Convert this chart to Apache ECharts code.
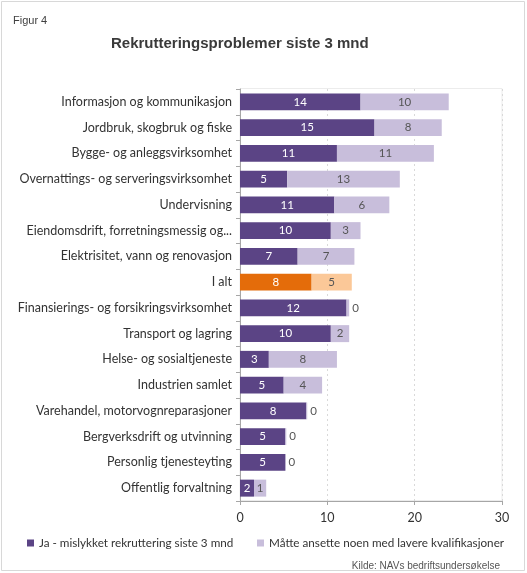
<!DOCTYPE html>
<html><head><meta charset="utf-8">
<script src="https://cdn.jsdelivr.net/npm/echarts@6/dist/echarts.min.js"></script>
<style>html,body{margin:0;padding:0;background:#fff}#c{width:527px;height:573px}</style>
</head><body><div id="c"></div>
<script>
const categories = [
  "Informasjon og kommunikasjon",
  "Jordbruk, skogbruk og fiske",
  "Bygge- og anleggsvirksomhet",
  "Overnattings- og serveringsvirksomhet",
  "Undervisning",
  "Eiendomsdrift, forretningsmessig og...",
  "Elektrisitet, vann og renovasjon",
  "I alt",
  "Finansierings- og forsikringsvirksomhet",
  "Transport og lagring",
  "Helse- og sosialtjeneste",
  "Industrien samlet",
  "Varehandel, motorvognreparasjoner",
  "Bergverksdrift og utvinning",
  "Personlig tjenesteyting",
  "Offentlig forvaltning"
];
const mislykket = [13.8, 15.4, 11.1, 5.4, 10.8, 10.4, 6.6, 8.2, 12.2, 10.4, 3.3, 5.0, 7.6, 5.2, 5.2, 1.6];
const lavereKval = [10.1, 7.7, 11.1, 12.9, 6.3, 3.4, 6.5, 4.6, 0.3, 2.1, 7.8, 4.4, 0.1, 0.1, 0.0, 1.4];
const xTicks = [0, 10, 20, 30];
const seriesNames = ["Ja - mislykket rekruttering siste 3 mnd", "Måtte ansette noen med lavere kvalifikasjoner"];
const highlight = "I alt";

const FONT = "Lato";
const dark = "#5b4485", light = "#c8bedb", orange = "#e46c0a", peach = "#fbc898";

const cats = categories.slice().reverse();
const a = mislykket.slice().reverse();
const b = lavereKval.slice().reverse();

const dataA = a.map((v, i) => ({
  value: v,
  itemStyle: { color: cats[i] === highlight ? orange : dark }
}));
const dataB = b.map((v, i) => {
  const o = { value: v, itemStyle: { color: cats[i] === highlight ? peach : light } };
  if (v < 1) o.label = { position: "right", distance: 3 };
  return o;
});

const legendBase = {
  top: 532, itemWidth: 7, itemHeight: 7, itemGap: 10, icon: "rect",
  textStyle: { fontFamily: FONT, fontSize: 11.7, color: "#333" }
};

const chart = echarts.init(document.getElementById("c"), null, { renderer: "canvas" });
chart.setOption({
  animation: false,
  backgroundColor: "#fff",
  title: [
    { text: "Figur 4", left: 8, top: 10, textStyle: { fontFamily: "Arial", fontSize: 11, fontWeight: "normal", color: "#404040" } },
    { text: "Rekrutteringsproblemer siste 3 mnd", left: 106, top: 31, textStyle: { fontFamily: "Arial", fontSize: 15, fontWeight: "bold", color: "#3a3a3a" } },
    { text: "Kilde: NAVs bedriftsundersøkelse", right: 22, top: 556, textStyle: { fontFamily: "Arial", fontSize: 10, fontWeight: "normal", color: "#555" } }
  ],
  graphic: [
    { type: "rect", shape: { x: 1.5, y: 1.5, width: 523, height: 569 }, style: { fill: "none", stroke: "#d8d8d8", lineWidth: 1 }, silent: true },
    { type: "rect", shape: { x: 240, y: 88.5, width: 262, height: 412 }, style: { fill: "none", stroke: "#ececec", lineWidth: 1 }, silent: true, z: -1 }
  ],
  legend: [
    Object.assign({ left: 22, data: [seriesNames[0]] }, legendBase),
    Object.assign({ left: 252, data: [seriesNames[1]] }, legendBase)
  ],
  grid: { left: 240, right: 25, top: 89, bottom: 72, containLabel: false },
  xAxis: {
    type: "value", min: 0, max: 30, interval: 10,
    axisLine: { show: true, lineStyle: { color: "#a6a6a6" } },
    axisTick: { show: true, length: 4, lineStyle: { color: "#a6a6a6" } },
    axisLabel: { fontFamily: FONT, fontSize: 12.5, color: "#333", margin: 10,
      formatter: v => xTicks.includes(v) ? String(v) : "" },
    splitLine: { show: true, lineStyle: { color: "#d9d9d9", type: [2, 3] } }
  },
  yAxis: {
    type: "category", data: cats,
    axisLine: { show: true, lineStyle: { color: "#a6a6a6" } },
    axisTick: { show: true, length: 4, lineStyle: { color: "#a6a6a6" } },
    axisLabel: { fontFamily: FONT, fontSize: 12.5, color: "#333", margin: 8 }
  },
  series: [
    {
      name: seriesNames[0], type: "bar", stack: "s", data: dataA,
      barCategoryGap: "34%", color: dark,
      label: { show: true, position: "inside", fontFamily: FONT, fontSize: 11.5, color: "#fff",
        formatter: p => String(Math.round(p.value)) }
    },
    {
      name: seriesNames[1], type: "bar", stack: "s", data: dataB,
      barCategoryGap: "34%", color: light,
      label: { show: true, position: "inside", fontFamily: FONT, fontSize: 11.5, color: "#555",
        formatter: p => String(Math.round(p.value)) }
    }
  ]
});
</script></body></html>
